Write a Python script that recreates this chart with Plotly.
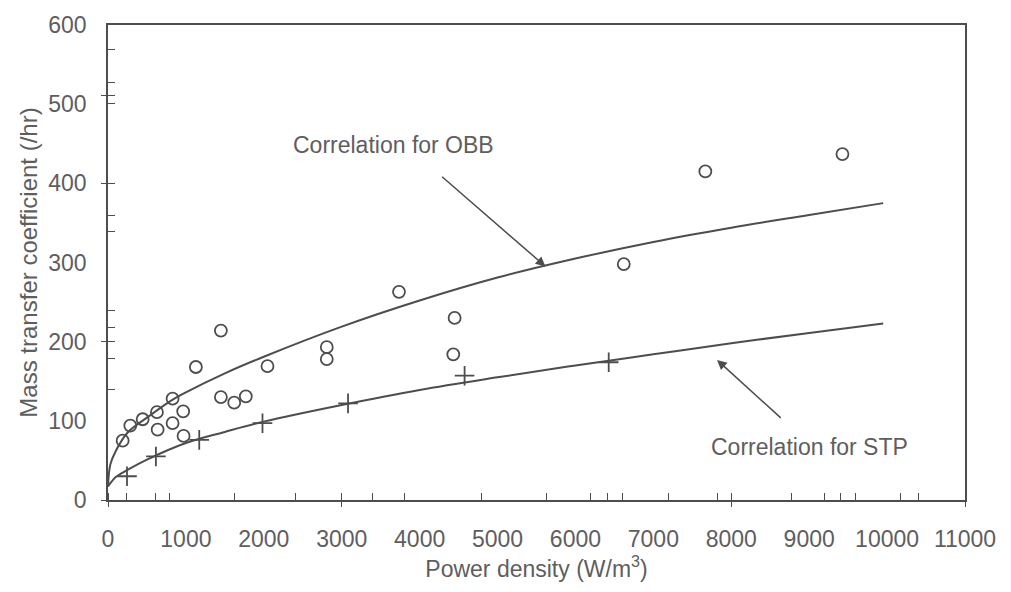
import plotly.graph_objects as go

# Measured mass transfer coefficients (/hr) against power density (W/m^3)
obb_power = [188, 286, 445, 628, 637, 829, 829, 965, 970, 1128, 1449, 1449, 1620, 1769,
             2047, 2808, 2808, 3735, 4432, 4449, 6620, 7667, 9427]
obb_kla = [75, 94, 102, 111, 89, 128, 97, 112, 81, 168, 214, 130, 123, 131,
           169, 193, 178, 263, 184, 230, 298, 415, 437]

stp_power = [244, 615, 1171, 1983, 3081, 4577, 6427]
stp_kla = [30, 55, 76, 97, 122, 157, 174]

# Correlation curves
obb_fit_power = [0, 30, 100, 250, 500, 800, 1000, 1500, 2000, 3000, 4000, 5000, 6000, 7000, 8000, 9000, 9950]
obb_fit_kla = [17, 45, 62, 85, 104, 125, 136, 160, 181, 219, 252, 281, 305, 326, 344, 360, 375]

stp_fit_power = [0, 100, 250, 500, 1000, 1500, 2000, 3000, 4000, 5000, 6000, 7000, 8000, 9000, 9950]
stp_fit_kla = [17, 29, 38, 51, 72, 86, 99, 120, 139, 155, 170, 184, 198, 211, 223]

x_ticks = list(range(0, 11001, 1000))
x_tick_text = [str(v) for v in x_ticks]
y_ticks = list(range(0, 601, 100))
x_major_marks = [0, 3000, 8000, 11000]
x_minor_marks = [231, 615, 795, 1628, 2410, 3397, 3808, 4795, 5628, 6192, 6410, 6603,
                 7192, 7821, 8769, 9192, 9397, 9590, 10167, 10397]
y_major_marks = [0, 200, 400, 511]
y_minor_marks = [140, 179, 218, 239, 339, 359, 501, 527, 569]

INK = "#4d4d4d"
TEXT = "#5e5e5e"
FONT = "Liberation Sans, Arial, sans-serif"

fig = go.Figure()

fig.add_trace(go.Scatter(x=obb_fit_power, y=obb_fit_kla, mode="lines", line_shape="spline",
                         line=dict(color=INK, width=2), showlegend=False, hoverinfo="skip"))
fig.add_trace(go.Scatter(x=stp_fit_power, y=stp_fit_kla, mode="lines", line_shape="spline",
                         line=dict(color=INK, width=2), showlegend=False, hoverinfo="skip"))
fig.add_trace(go.Scatter(x=obb_power, y=obb_kla, mode="markers", name="OBB",
                         marker=dict(symbol="circle-open", size=12, color=INK,
                                     line=dict(width=1.8, color=INK)),
                         showlegend=False))
fig.add_trace(go.Scatter(x=stp_power, y=stp_kla, mode="markers", name="STP",
                         marker=dict(symbol="cross-thin-open", size=14, color=INK,
                                     line=dict(width=1.8, color=INK)),
                         showlegend=False))

# invisible carrier for the overlay axes
fig.add_trace(go.Scatter(x=[None], y=[None], xaxis="x2", yaxis="y2", showlegend=False, hoverinfo="skip"))

fig.add_annotation(x=5615, y=295, ax=4269, ay=410, xref="x", yref="y", axref="x", ayref="y",
                   text="", showarrow=True, arrowhead=2, arrowsize=1.3, arrowwidth=1.5,
                   arrowcolor=INK)
fig.add_annotation(x=3670, y=448, xref="x", yref="y", text="Correlation for OBB",
                   showarrow=False, font=dict(family=FONT, size=23, color=TEXT))
fig.add_annotation(x=7817, y=177, ax=8654, ay=102, xref="x", yref="y", axref="x", ayref="y",
                   text="", showarrow=True, arrowhead=2, arrowsize=1.3, arrowwidth=1.5,
                   arrowcolor=INK)
fig.add_annotation(x=9010, y=67, xref="x", yref="y", text="Correlation for STP",
                   showarrow=False, font=dict(family=FONT, size=23, color=TEXT))

fig.update_layout(
    width=1011, height=592,
    margin=dict(l=108, r=46, t=21, b=92),
    paper_bgcolor="white", plot_bgcolor="white",
    font=dict(family=FONT, size=23, color=TEXT),
    xaxis=dict(
        range=[0, 11000], tickmode="array", tickvals=x_ticks, ticktext=x_tick_text,
        ticks="outside", ticklen=18, tickcolor="rgba(0,0,0,0)",
        showline=True, mirror=True, linecolor=INK, linewidth=1.6,
        showgrid=False, zeroline=False,
        minor=dict(tickmode="array", tickvals=x_minor_marks + x_major_marks, ticks="inside",
                   ticklen=7, tickwidth=1.4, tickcolor=INK, showgrid=False),
        title=dict(text="Power density (W/m<sup>3</sup>)", standoff=8,
                   font=dict(size=23, color=TEXT)),
    ),
    yaxis=dict(
        range=[0, 600], tickmode="array", tickvals=y_ticks,
        ticks="outside", ticklen=15, tickcolor="rgba(0,0,0,0)",
        showline=True, mirror=True, linecolor=INK, linewidth=1.6,
        showgrid=False, zeroline=False,
        minor=dict(tickmode="array", tickvals=y_minor_marks + y_major_marks, ticks="inside",
                   ticklen=7, tickwidth=1.4, tickcolor=INK, showgrid=False),
        title=dict(text="Mass transfer coefficient (/hr)", standoff=4,
                   font=dict(size=24, color=TEXT)),
    ),
    xaxis2=dict(overlaying="x", anchor="y", side="bottom", range=[0, 11000],
                tickmode="array", tickvals=x_major_marks, ticks="outside", ticklen=6,
                tickwidth=1.4, tickcolor=INK, showticklabels=False, showline=False,
                showgrid=False, zeroline=False),
    yaxis2=dict(overlaying="y", anchor="x", side="left", range=[0, 600],
                tickmode="array", tickvals=y_major_marks, ticks="outside", ticklen=6,
                tickwidth=1.4, tickcolor=INK, showticklabels=False, showline=False,
                showgrid=False, zeroline=False),
)

fig.write_html("out.html")
